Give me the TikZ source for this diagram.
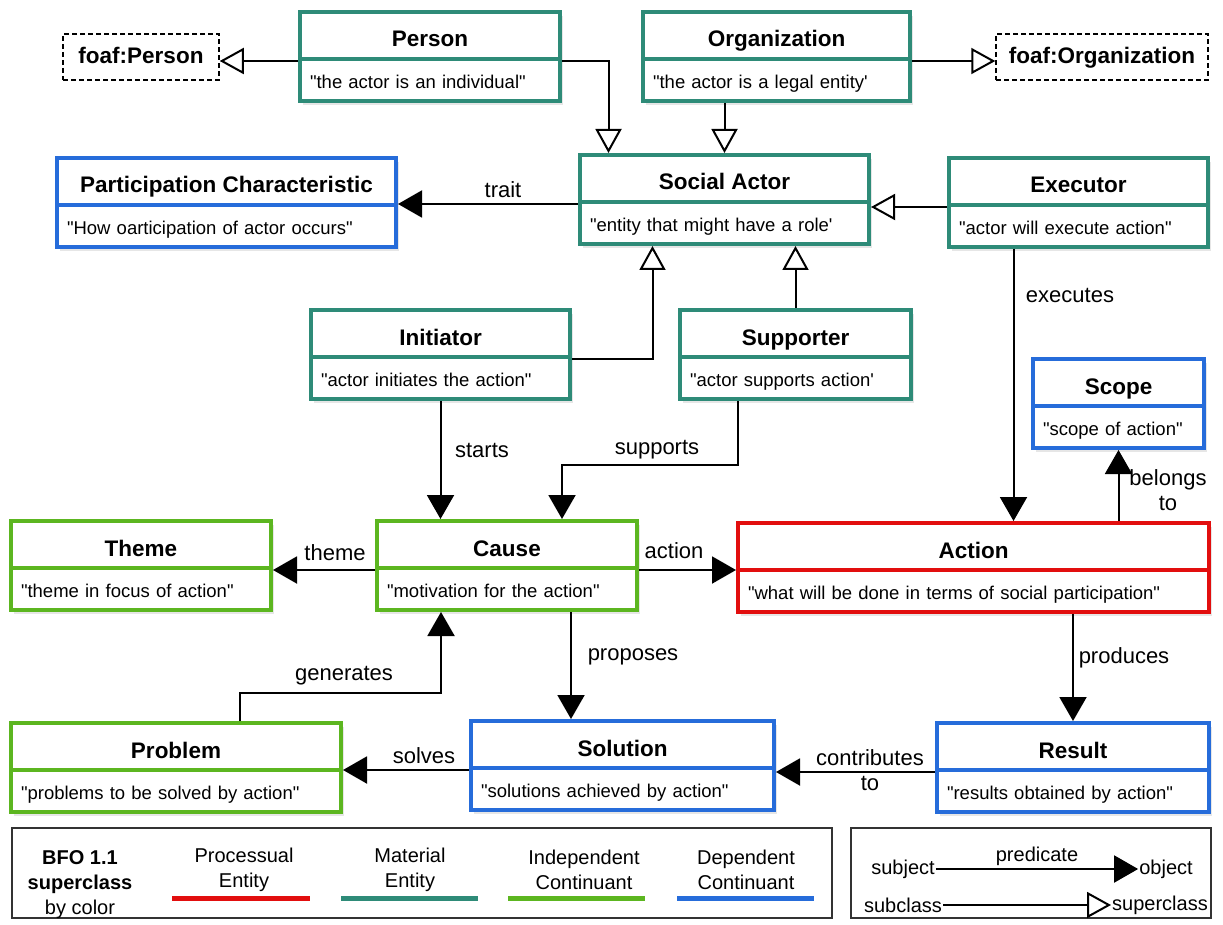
\documentclass[tikz,border=0pt]{standalone}
\usepackage{fontspec}
\setmainfont{Liberation Sans}[Ligatures=TeXOff]
\usetikzlibrary{arrows.meta,positioning,shadows}

\definecolor{procred}{RGB}{226,14,14}
\definecolor{matteal}{RGB}{46,139,120}
\definecolor{indgreen}{RGB}{92,182,32}
\definecolor{depblue}{RGB}{38,108,218}

\tikzset{
    ttl/.style={draw=#1, line width=4pt, fill=white, minimum height=47pt, inner sep=0pt,
        text height=28pt, text depth=5pt,
        font=\fontsize{22.5}{27}\selectfont\bfseries,
        drop shadow={shadow xshift=3pt, shadow yshift=-4pt, opacity=0.2}},
    dsc/.style={draw=#1, line width=4pt, fill=white, minimum height=42pt, inner xsep=10pt, inner ysep=0pt,
        text height=21pt, text depth=4pt,
        align=left, font=\fontsize{18.5}{22}\selectfont,
        drop shadow={shadow xshift=3pt, shadow yshift=-4pt, opacity=0.2}},
    foaf/.style={draw, line width=1.5pt, dash pattern=on 5pt off 3pt, fill=white, minimum height=46pt,
        inner ysep=0pt, text height=18pt, text depth=5pt,
        font=\fontsize{22.5}{27}\selectfont\bfseries},
    rel/.style={line width=2pt, -{Triangle[length=24pt,width=27pt]}},
    isa/.style={line width=2pt, -{Triangle[open,length=24pt,width=26pt,fill=white]}},
    lbl/.style={font=\fontsize{22}{25}\selectfont, inner sep=1pt, align=center},
    lgd/.style={font=\fontsize{20}{25}\selectfont, inner sep=1pt, align=center},
}

\begin{document}
\begin{tikzpicture}[x=1pt, y=-1pt]
    \useasboundingbox (0,0) rectangle (1223,925);

    % classes
    \node[foaf, minimum width=156pt] (foafp) at (141,57) {foaf:Person};
    \node[foaf, minimum width=212pt] (foafo) at (1102,57) {foaf:Organization};

    \node[ttl=matteal, minimum width=260pt] (person) at (430,35.5) {Person};
    \node[dsc=matteal, text width=240pt, below=-4pt of person] (person-d) {"the actor is an individual"};
    \node[ttl=matteal, minimum width=267pt] (organization) at (776.5,35.5) {Organization};
    \node[dsc=matteal, text width=247pt, below=-4pt of organization] (organization-d) {"the actor is a legal entity'};

    \node[ttl=depblue, minimum width=339pt] (partchar) at (226.5,181.5) {Participation Characteristic};
    \node[dsc=depblue, text width=319pt, below=-4pt of partchar] (partchar-d) {"How oarticipation of actor occurs"};
    \node[ttl=matteal, minimum width=289pt] (social) at (724.5,178.5) {Social Actor};
    \node[dsc=matteal, text width=269pt, below=-4pt of social] (social-d) {"entity that might have a role'};
    \node[ttl=matteal, minimum width=259pt] (executor) at (1078.5,181.5) {Executor};
    \node[dsc=matteal, text width=239pt, below=-4pt of executor] (executor-d) {"actor will execute action"};

    \node[ttl=matteal, minimum width=259pt] (initiator) at (440.5,333.5) {Initiator};
    \node[dsc=matteal, text width=239pt, below=-4pt of initiator] (initiator-d) {"actor initiates the action"};
    \node[ttl=matteal, minimum width=231pt] (supporter) at (795.5,333.5) {Supporter};
    \node[dsc=matteal, text width=211pt, below=-4pt of supporter] (supporter-d) {"actor supports action'};
    \node[ttl=depblue, minimum width=171pt] (scope) at (1118.5,382.5) {Scope};
    \node[dsc=depblue, text width=151pt, below=-4pt of scope] (scope-d) {"scope of action"};

    \node[ttl=indgreen, minimum width=260pt] (theme) at (141,544.5) {Theme};
    \node[dsc=indgreen, text width=240pt, below=-4pt of theme] (theme-d) {"theme in focus of action"};
    \node[ttl=indgreen, minimum width=260pt] (cause) at (507,544.5) {Cause};
    \node[dsc=indgreen, text width=240pt, below=-4pt of cause] (cause-d) {"motivation for the action"};
    \node[ttl=procred, minimum width=471pt] (action) at (973.5,546.5) {Action};
    \node[dsc=procred, text width=451pt, below=-4pt of action] (action-d) {"what will be done in terms of social participation"};

    \node[ttl=indgreen, minimum width=330pt] (problem) at (176,746.5) {Problem};
    \node[dsc=indgreen, text width=310pt, below=-4pt of problem] (problem-d) {"problems to be solved by action"};
    \node[ttl=depblue, minimum width=303pt] (solution) at (622.5,744.5) {Solution};
    \node[dsc=depblue, text width=283pt, below=-4pt of solution] (solution-d) {"solutions achieved by action"};
    \node[ttl=depblue, minimum width=272pt] (result) at (1073,746.5) {Result};
    \node[dsc=depblue, text width=252pt, below=-4pt of result] (result-d) {"results obtained by action"};

    % subclass links
    \draw[isa] (person.south west) -- (person.south west -| foafp.east);
    \draw[isa] (organization.south east) -- (organization.south east -| foafo.west);
    \draw[isa] (person.south east) -| ([xshift=-116pt]social.north);
    \draw[isa] (organization-d.south -| social.north) -- (social.north);
    \draw[isa] (executor.south west) -- (executor.south west -| social.east);
    \draw[isa] (initiator.south east) -| ([xshift=-72pt]social-d.south);
    \draw[isa] (supporter.north) -- (supporter.north |- social-d.south);

    % relations
    \draw[rel] (social.south west) -- (social.south west -| partchar.east);
    \node[lbl] (l-trait) at (503,190) {trait};
    \draw[rel] (initiator-d.south) -- (initiator-d.south |- cause.north);
    \node[lbl] (l-starts) at (482,450) {starts};
    \draw[rel] ([xshift=-58pt]supporter-d.south) -- ++(0,64) -| ([xshift=55pt]cause.north);
    \node[lbl] (l-supports) at (657,450) {supports};
    \draw[rel] ([xshift=-65pt]executor-d.south) -- ([xshift=-65pt]executor-d.south |- action.north);
    \node[lbl] (l-executes) at (1070,295) {executes};
    \draw[rel] (scope-d.south |- action.north) -- (scope-d.south);
    \node[lbl] (l-belongs) at (1168,490) {belongs\\to};
    \draw[rel] (cause.south west) -- (cause.south west -| theme.east);
    \node[lbl] (l-theme) at (335,553) {theme};
    \draw[rel] (cause.south east) -- (cause.south east -| action.west);
    \node[lbl] (l-action) at (674,551) {action};
    \draw[rel] ([xshift=64pt]cause-d.south) -- ([xshift=64pt]cause-d.south |- solution.north);
    \node[lbl] (l-proposes) at (633,657) {proposes};
    \draw[rel] ([xshift=64pt]problem.north) -- ++(0,-28) -| ([xshift=-66pt]cause-d.south);
    \node[lbl] (l-generates) at (344,676) {generates};
    \draw[rel] (result.north |- action-d.south) -- (result.north);
    \node[lbl] (l-produces) at (1124,658) {produces};
    \draw[rel] (solution.south west) -- (solution.south west -| problem.east);
    \node[lbl] (l-solves) at (424,756) {solves};
    \draw[rel] (result.south west) -- (result.south west -| solution.east);
    \node[lbl] (l-contrib) at (870,770) {contributes\\to};

    % legend
    \draw[line width=1.2pt, black!80] (12,828) rectangle (832,918);
    \draw[line width=1.2pt, black!80] (851,828) rectangle (1211,918);
    \node[lgd] (bfo) at (80,885) {\textbf{BFO 1.1}\\\textbf{superclass}\\by color};
    \node[lgd] (leg-proc) at (244,869.5) {Processual\\Entity};
    \node[lgd] (leg-mat) at (410,869.5) {Material\\Entity};
    \node[lgd] (leg-ind) at (584,869.5) {Independent\\Continuant};
    \node[lgd] (leg-dep) at (746,869.5) {Dependent\\Continuant};
    \draw[procred, line width=5pt] (172,898) -- (310,898);
    \draw[matteal, line width=5pt] (341,898) -- (478,898);
    \draw[indgreen, line width=5pt] (508,898) -- (645,898);
    \draw[depblue, line width=5pt] (677,898) -- (814,898);

    \node[lgd] (subject) at (903,869) {subject};
    \node[lgd] (object) at (1166,869) {object};
    \draw[rel] (subject) -- (object) node[lgd, midway, above=1pt] (predicate) {predicate};
    \node[lgd] (subclass) at (903,905) {subclass};
    \node[lgd] (superclass) at (1160,905) {superclass};
    \draw[isa] (subclass) -- (superclass);
\end{tikzpicture}
\end{document}
